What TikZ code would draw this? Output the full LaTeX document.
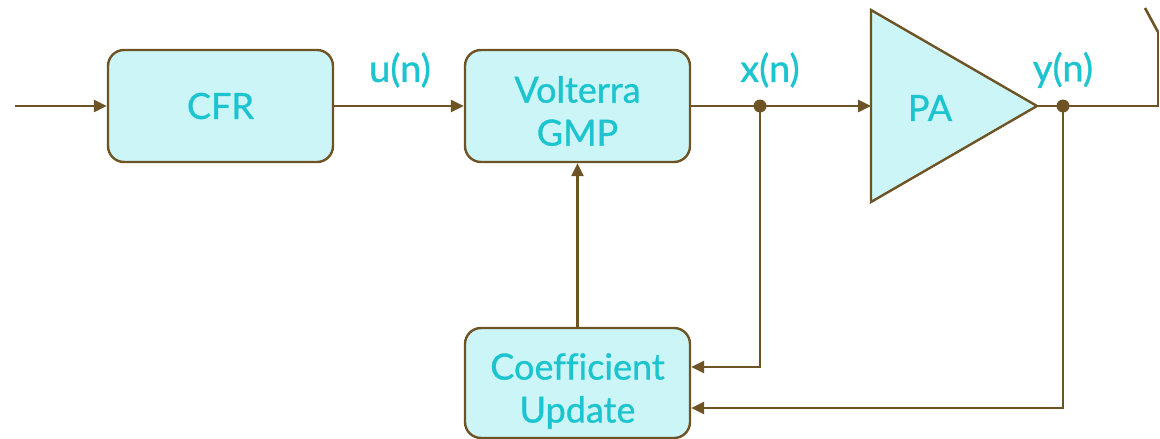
\documentclass[tikz,border=0pt]{standalone}
\usepackage{fontspec}
\setmainfont{Lato}[Ligatures=NoCommon, FakeBold=0.9]
\usetikzlibrary{arrows.meta}
\definecolor{wire}{HTML}{6E5424}
\definecolor{boxfill}{HTML}{CCF5F7}
\definecolor{label}{HTML}{1CC4CF}
\tikzset{
  block/.style={draw=wire, line width=2.4pt, fill=boxfill, rounded corners=16pt,
    minimum width=225pt, minimum height=112pt, inner sep=0pt},
  blocktext/.style={text=label, font=\fontsize{36}{43}\selectfont, align=center, inner sep=0pt},
  sig/.style={text=label, font=\fontsize{38}{44}\selectfont},
  conn/.style={draw=wire, line width=2.6pt},
  flow/.style={conn, -{Triangle[length=13pt,width=12pt]}},
  junction/.style={circle, fill=wire, minimum size=13pt, inner sep=0pt},
}
\begin{document}
\begin{tikzpicture}[x=1pt, y=-1pt]
\useasboundingbox (0,0) rectangle (1160,439);

% blocks
\node[block, label={[blocktext]center:CFR}] (cfr) at (220.5,106) {};
\node[block, label={[blocktext, yshift=-5pt]center:Volterra\\GMP}] (gmp) at (577.5,106) {};
\node[block, minimum height=110pt,
      label={[blocktext, yshift=-8pt]center:Coefficient\\Update}] (cu) at (577.5,383) {};

% power amplifier
\coordinate (paA) at (871,10);
\coordinate (paB) at (871,202);
\coordinate (paTip) at (1037,106);
\coordinate (paIn) at (871,106);
\draw[draw=wire, line width=2.4pt, fill=boxfill, line join=miter] (paA) -- (paTip) -- (paB) -- cycle;
\node[blocktext] (pa) at (930,108) {PA};

% junction points
\node[junction] (jx) at (760,106) {};
\node[junction] (jy) at (1063,106) {};

% input and forward path
\coordinate (in) at (15,106);
\draw[flow] (in) -- (cfr.west);
\draw[flow] (cfr.east) -- (gmp.west);
\draw[conn] (gmp.east) -- (jx.center);
\draw[flow] (jx.center) -- (paIn);
\draw[conn] (paTip) -- (jy.center);

% antenna
\coordinate (ant) at (1158,106);
\coordinate (antTop) at (1158,32);
\coordinate (antArm) at (1145,8);
\draw[conn] (jy.center) -- (ant) -- (antTop);
\draw[conn] (antTop) -- (antArm);

% feedback paths
\draw[flow] (cu.north) -- (gmp.south);
\draw[flow] (jx.center) |- ([yshift=16pt]cu.east);
\draw[flow] (jy.center) |- ([yshift=-25pt]cu.east);

% signal labels
\node[sig] (un) at (400,70) {u(n)};
\node[sig] (xn) at (770,70) {x(n)};
\node[sig] (yn) at (1063,70) {y(n)};
\end{tikzpicture}
\end{document}
